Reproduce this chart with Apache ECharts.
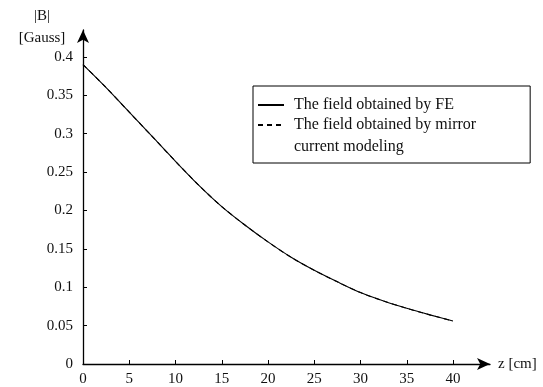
<!DOCTYPE html>
<html>
<head>
<meta charset="utf-8">
<script src="https://cdn.jsdelivr.net/npm/echarts@6/dist/echarts.min.js"></script>
<style>html,body{margin:0;padding:0;background:#fff;}#c{width:543px;height:387px;}</style>
</head>
<body>
<div id="c"></div>
<script>
// z positions [cm]
const zValues = [0, 2.5, 5, 7.5, 10, 12.5, 15, 17.5, 20, 22.5, 25, 27.5, 30, 32.5, 35, 37.5, 40];
// |B| [Gauss] obtained by FE
const feField = [0.390, 0.360, 0.328, 0.296, 0.264, 0.233, 0.205, 0.181, 0.159, 0.139, 0.122, 0.107, 0.093, 0.082, 0.0725, 0.064, 0.056];
// |B| [Gauss] obtained by mirror current modeling (overlaps FE curve)
const mirrorField = [0.390, 0.360, 0.328, 0.296, 0.264, 0.233, 0.205, 0.181, 0.159, 0.139, 0.122, 0.107, 0.093, 0.082, 0.0725, 0.064, 0.056];
const xTicks = [0, 5, 10, 15, 20, 25, 30, 35, 40];
const yTicks = [0, 0.05, 0.1, 0.15, 0.2, 0.25, 0.3, 0.35, 0.4];
const seriesNames = ['The field obtained by FE', 'The field obtained by mirror\ncurrent modeling'];

const font = 'Liberation Serif';
const chart = echarts.init(document.getElementById('c'));
chart.setOption({
  animation: false,
  backgroundColor: '#fff',
  grid: { left: 83, right: 53, top: 30, bottom: 22 },
  legend: {
    orient: 'vertical',
    left: 253, top: 86,
    padding: [6, 54, 5, 4],
    itemGap: -24,
    itemWidth: 26, itemHeight: 12,
    borderColor: '#000', borderWidth: 1,
    itemStyle: { opacity: 0 },
    lineStyle: { width: 2 },
    data: seriesNames,
    // blank first line so the icon sits beside the first text line of the two-line entry
    formatter: name => (name === seriesNames[1] ? '\n' + name : name),
    textStyle: { fontFamily: font, fontSize: 16, color: '#111', lineHeight: 22, padding: [0, 0, 0, 5] }
  },
  xAxis: {
    type: 'value', min: 0, max: 44,
    name: 'z [cm]', nameLocation: 'end', nameGap: 8,
    nameTextStyle: { fontFamily: font, fontSize: 15, color: '#111' },
    axisLine: { lineStyle: { color: '#000', width: 1.3 }, symbol: ['none', 'arrow'], symbolSize: [9, 13] },
    axisTick: { inside: true, length: 4, customValues: xTicks, lineStyle: { color: '#000' } },
    axisLabel: { customValues: xTicks, margin: 8, fontFamily: font, fontSize: 15, color: '#111' },
    splitLine: { show: false }
  },
  yAxis: {
    type: 'value', min: 0, max: 0.435,
    name: '|B|\n[Gauss]', nameLocation: 'end', nameGap: -20,
    nameTextStyle: { fontFamily: font, fontSize: 15, color: '#111', align: 'center', lineHeight: 22, padding: [0, 82, 0, 0], verticalAlign: 'bottom' },
    axisLine: { lineStyle: { color: '#000', width: 1.3 }, symbol: ['none', 'arrow'], symbolSize: [9, 13] },
    axisTick: { inside: true, length: 4, customValues: yTicks, lineStyle: { color: '#000' } },
    axisLabel: { customValues: yTicks, margin: 10, fontFamily: font, fontSize: 15, color: '#111' },
    splitLine: { show: false }
  },
  series: [
    {
      name: seriesNames[0], type: 'line', symbol: 'none', smooth: 0.3,
      data: zValues.map((z, i) => [z, feField[i]]),
      lineStyle: { color: '#000', width: 1.1, type: 'solid' },
      itemStyle: { color: '#000' }
    },
    {
      name: seriesNames[1], type: 'line', symbol: 'none', smooth: 0.3,
      data: zValues.map((z, i) => [z, mirrorField[i]]),
      lineStyle: { color: '#000', width: 1.1, type: [5, 4] },
      itemStyle: { color: '#000' }
    }
  ]
});
</script>
</body>
</html>
